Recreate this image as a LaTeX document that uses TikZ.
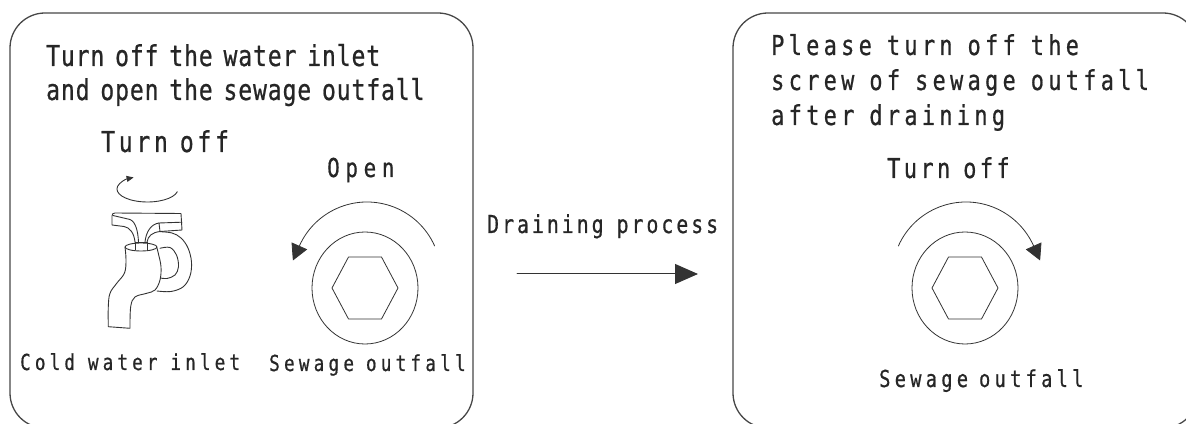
\documentclass[tikz,border=0pt]{standalone}
\usepackage{fontspec}
\usetikzlibrary{arrows.meta}
\newfontfamily\gothic[FakeStretch=0.8, FakeBold=0.7]{DejaVu Sans Mono}
% size, letter spacing (percent of size), word space (pt)
\newcommand\gset[3]{\fontsize{#1}{#1}\gothic\addfontfeatures{LetterSpace=#2}\spaceskip=#3pt\relax}
\tikzset{
  panel/.style={draw=black!72, line width=1.3pt, rounded corners=35pt},
  ink/.style={draw=black!80, line width=0.9pt, line join=round, line cap=round},
  txt/.style={anchor=base west, inner sep=0pt, text=black!85},
  bigtip/.style={-{Triangle[length=16pt,width=17pt]}},
}
\begin{document}
\begin{tikzpicture}[x=1pt,y=1pt]
\begin{scope}[yshift=423pt, yscale=-1]
\useasboundingbox (0,0) rectangle (1186,423);

% two rounded panels
\draw[panel] (10,13) rectangle (473,428);
\draw[panel] (733,13) rectangle (1198,428);

% ---------- left panel ----------
\node[txt, font={\gset{28.8}{3.1}{10.8}}] (lt1) at (46,66) {Turn off the water inlet};
\node[txt, font={\gset{28.8}{3.1}{10.8}}] (lt2) at (46,100) {and open the sewage outfall};
\node[txt, font={\gset{28.8}{13}{12}}] (lturn) at (101,152) {Turn off};
\node[txt, font={\gset{26}{22}{8}}] (lopen) at (327,177) {Open};
\node[txt, font={\gset{22}{18.8}{13}}] (lcold) at (20,370) {Cold water inlet};
\node[txt, font={\gset{22}{19.3}{12}}] (lsew) at (269,371) {Sewage outfall};

% tap: turning arrow above the handle
\draw[ink, -{Triangle[length=7pt,width=6pt]}] (177.3,191.7)
  arc[start angle=12, end angle=243, x radius=30.5pt, y radius=13pt];

% tap: cross handle
\draw[ink] (135,242) .. controls (134,233) and (130,227.5) .. (124,226.5)
  -- (112,225) -- (112,216) .. controls (112,214) and (113,213) .. (115,213)
  -- (181,213.5) -- (182,230) -- (160,231.5)
  .. controls (152,232.5) and (148,236) .. (147,242);
\draw[ink] (113,215.5) -- (130,219.5) .. controls (136,222) and (138,232) .. (138.5,242);
\draw[ink] (160,231.5) -- (159,223) -- (182,222.2);
\draw[ink] (159,223) .. controls (151,224) and (146,232) .. (145,242);
% tap: neck
\draw[ink] (135,242) -- (135,250) (147,242) -- (147,250) (135,242) -- (147,242);
% tap: body with spout
\draw[ink] plot[smooth, tension=0.6] coordinates {(125,247) (126,260) (124.5,273) (116.7,283.3) (110,293.3) (108.3,306.7) (108.3,326.7)}
  -- (130,328.3)
  -- plot[smooth, tension=0.6] coordinates {(130,328.3) (130.7,306.7) (135,297) (146.7,293.3) (155,290) (160,280) (161,266.7) (158.3,253.3) (156.7,247)};
\draw[ink] (141,247) ellipse[x radius=16pt, y radius=4pt];
% tap: side inlet connector
\draw[ink] plot[smooth, tension=0.6] coordinates {(160,231.7) (172,233) (181,238) (188,248) (191.5,262) (190,276) (183.3,286.7) (171,291.5) (157,291)};
\draw[ink] plot[smooth, tension=0.6] coordinates {(160,248.3) (170,247.5) (176.5,255) (178.5,266.7) (175,275) (167,278.5) (160.5,278)};

% sewage plug, opening direction
\coordinate (lc) at (365,288);
\draw[ink, line width=0.8pt] (lc) ellipse[x radius=53pt, y radius=56pt];
\draw[ink, line width=0.8pt] (332,288) -- (348.5,257) -- (381.5,257) -- (398,288) -- (381.5,319) -- (348.5,319) -- cycle;
\draw[ink, line width=0.8pt, bigtip] (434.6,245.9)
  arc[start angle=-24, end angle=-156, radius=74pt] -- ++(-6.5,14.6);

% ---------- middle arrow ----------
\node[txt, font={\gset{24.7}{12.3}{13}}] (drain) at (487,233) {Draining process};
\coordinate (dstart) at (517,274);
\coordinate (dend) at (698,274);
\draw[ink, line width=1pt, -{Triangle[length=23pt,width=20pt]}] (dstart) -- (dend);

% ---------- right panel ----------
\node[txt, font={\gset{27.4}{15.7}{15}}] (rt1) at (771,55) {Please turn off the};
\node[txt, font={\gset{27.4}{15.7}{15}}] (rt2) at (771,90) {screw of sewage outfall};
\node[txt, font={\gset{27.4}{15.7}{15}}] (rt3) at (771,125) {after draining};
\node[txt, font={\gset{27.4}{12.5}{13}}] (rturn) at (887,178) {Turn off};
\node[txt, font={\gset{23.3}{18.5}{11}}] (rsew) at (879,387) {Sewage outfall};

% sewage plug, closing direction
\coordinate (rc) at (965,288);
\draw[ink, line width=0.8pt] (rc) ellipse[x radius=53pt, y radius=56pt];
\draw[ink, line width=0.8pt] (932,288) -- (948.5,257) -- (981.5,257) -- (998,288) -- (981.5,319) -- (948.5,319) -- cycle;
\draw[ink, line width=0.8pt, bigtip] (898.4,245.9)
  arc[start angle=-156, end angle=-24, radius=74pt] -- ++(6.5,14.6);
\end{scope}
\end{tikzpicture}
\end{document}
